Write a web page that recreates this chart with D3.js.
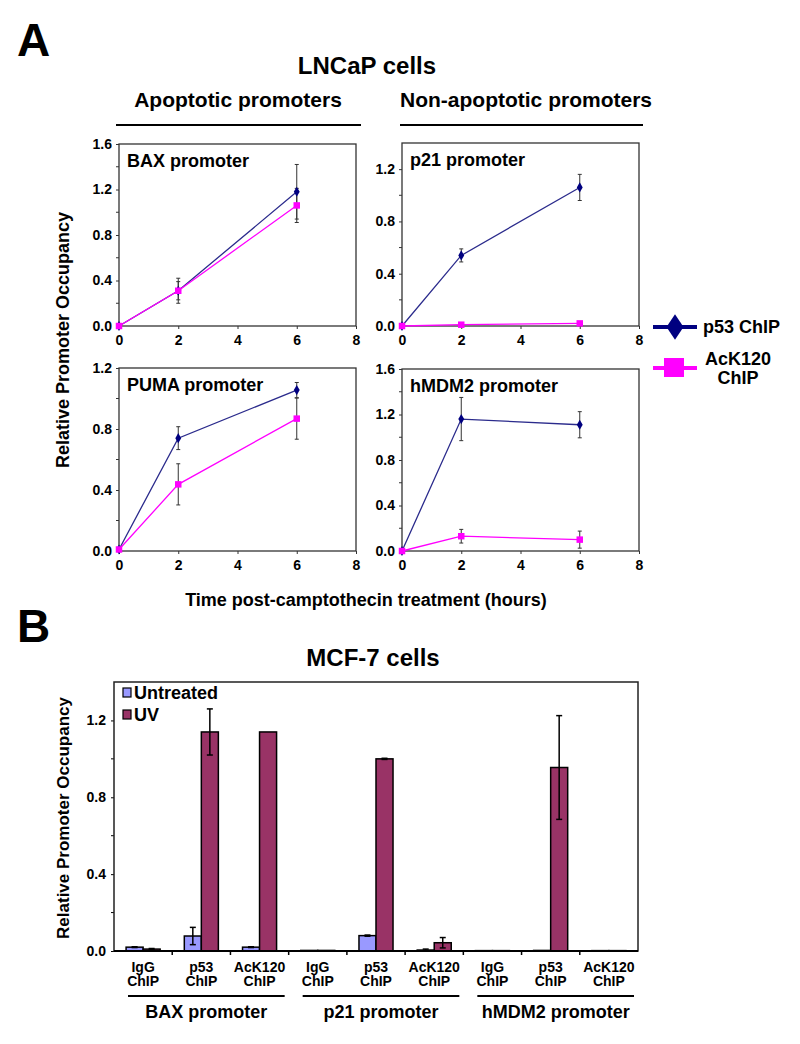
<!DOCTYPE html>
<html>
<head>
<meta charset="utf-8">
<script src="https://cdn.jsdelivr.net/npm/d3@7"></script>
<style>
  body { margin: 0; background: #fff; }
  svg { display: block; font-family: "Liberation Sans", Arial, sans-serif; font-weight: bold; }
</style>
</head>
<body>
<svg id="chart" width="800" height="1044"></svg>
<script>
// ---------- Panel A data ----------
const timePoints = [0, 2, 6];
const xTicksA = [0, 2, 4, 6, 8];
const panelNames = ["BAX promoter", "p21 promoter", "PUMA promoter", "hMDM2 promoter"];
const yMaxA = [1.6, 1.4, 1.2, 1.6];
const yTickLabelsA = [[0, 0.4, 0.8, 1.2, 1.6], [0, 0.4, 0.8, 1.2], [0, 0.4, 0.8, 1.2], [0, 0.4, 0.8, 1.2, 1.6]];
const p53Values = [[0, 0.31, 1.18], [0, 0.54, 1.06], [0.01, 0.74, 1.055], [0, 1.16, 1.11]];
const p53Errors = [[0, 0.11, 0.24], [0, 0.05, 0.10], [0, 0.075, 0.05], [0, 0.19, 0.115]];
const ack120Values = [[0, 0.31, 1.06], [0, 0.01, 0.02], [0.01, 0.437, 0.868], [0, 0.13, 0.10]];
const ack120Errors = [[0, 0.08, 0.15], [0, 0.004, 0.004], [0, 0.135, 0.135], [0, 0.06, 0.075]];
const seriesNamesA = ["p53 ChIP", "AcK120 ChIP"];

// ---------- Panel B data ----------
const chipTypes = ["IgG ChIP", "p53 ChIP", "AcK120 ChIP"];
const promoterGroups = ["BAX promoter", "p21 promoter", "hMDM2 promoter"];
const treatments = ["Untreated", "UV"];
const untreatedValues = [0.02, 0.078, 0.02, 0.003, 0.08, 0.005, 0.002, 0.003, 0.002];
const untreatedErrors = [0.002, 0.045, 0.002, 0, 0.003, 0.005, 0, 0, 0];
const uvValues = [0.01, 1.14, 1.14, 0.003, 1.0, 0.043, 0.002, 0.955, 0.002];
const uvErrors = [0.003, 0.12, 0, 0, 0.003, 0.027, 0, 0.27, 0];
const yTickLabelsB = [0, 0.4, 0.8, 1.2];

const svg = d3.select("#chart");
svg.append("rect").attr("width", 800).attr("height", 1044).attr("fill", "#fff");

const P53_LINE = "#2b2b8c", P53_MARK = "#000080", ACK = "#ff00ff";

// ---------- Panel A ----------
svg.append("text").attr("x", 17).attr("y", 56).attr("font-size", 46).text("A");
svg.append("text").attr("x", 367).attr("y", 74).attr("text-anchor", "middle").attr("font-size", 24).text("LNCaP cells");
svg.append("text").attr("x", 238).attr("y", 107).attr("text-anchor", "middle").attr("font-size", 21).text("Apoptotic promoters");
svg.append("text").attr("x", 526).attr("y", 107).attr("text-anchor", "middle").attr("font-size", 21).text("Non-apoptotic promoters");
svg.append("line").attr("x1", 116).attr("x2", 361).attr("y1", 125).attr("y2", 125).attr("stroke", "#000").attr("stroke-width", 2);
svg.append("line").attr("x1", 400).attr("x2", 643).attr("y1", 125).attr("y2", 125).attr("stroke", "#000").attr("stroke-width", 2);

const boxes = [
  {x0: 119, x1: 356, y0: 144, y1: 326},
  {x0: 402, x1: 639, y0: 143, y1: 326},
  {x0: 119, x1: 356, y0: 368, y1: 551},
  {x0: 402, x1: 639, y0: 369, y1: 551}
];

panelNames.forEach((name, i) => {
  const b = boxes[i];
  const x = d3.scaleLinear().domain([0, 8]).range([b.x0, b.x1]);
  const y = d3.scaleLinear().domain([0, yMaxA[i]]).range([b.y1, b.y0]);
  const g = svg.append("g");
  g.append("rect").attr("x", b.x0).attr("y", b.y0).attr("width", b.x1 - b.x0).attr("height", b.y1 - b.y0)
    .attr("fill", "none").attr("stroke", "#333").attr("stroke-width", 1.3);
  // y axis
  const yAx = g.append("g").attr("transform", `translate(${b.x0},0)`)
    .call(d3.axisLeft(y).tickValues(yTickLabelsA[i]).tickFormat(d3.format(".1f")).tickSize(3).tickPadding(4));
  yAx.select(".domain").remove();
  yAx.selectAll("text").attr("font-size", 14).attr("font-family", "Liberation Sans, Arial, sans-serif").attr("font-weight", "bold").attr("fill", "#000");
  yAx.selectAll("line").attr("stroke", "#333");
  const minor = d3.range(0.2, yMaxA[i], 0.4);
  g.selectAll(".minor").data(minor).enter().append("line")
    .attr("x1", b.x0 - 3).attr("x2", b.x0).attr("y1", d => y(d)).attr("y2", d => y(d)).attr("stroke", "#333");
  // x axis
  const xAx = g.append("g").attr("transform", `translate(0,${b.y1})`)
    .call(d3.axisBottom(x).tickValues(xTicksA).tickFormat(d3.format("d")).tickSize(3).tickPadding(6));
  xAx.select(".domain").remove();
  xAx.selectAll("text").attr("font-size", 14).attr("font-family", "Liberation Sans, Arial, sans-serif").attr("font-weight", "bold").attr("fill", "#000");
  xAx.selectAll("line").attr("stroke", "#333");
  // title
  g.append("text").attr("x", b.x0 + 8).attr("y", b.y0 + 23).attr("font-size", 18).text(name);

  const series = [
    {vals: p53Values[i], errs: p53Errors[i], line: P53_LINE, mark: P53_MARK, shape: d3.symbolDiamond, size: 30},
    {vals: ack120Values[i], errs: ack120Errors[i], line: ACK, mark: ACK, shape: d3.symbolSquare, size: 42}
  ];
  // draw AcK120 first? Reference: p53 line under magenta at shared points
  [series[0], series[1]].forEach(s => {
    const pts = timePoints.map((t, k) => ({t, v: s.vals[k], e: s.errs[k]}));
    g.append("path").datum(pts)
      .attr("d", d3.line().x(d => x(d.t)).y(d => y(d.v)))
      .attr("fill", "none").attr("stroke", s.line).attr("stroke-width", 1.3);
  });
  [series[0], series[1]].forEach(s => {
    const pts = timePoints.map((t, k) => ({t, v: s.vals[k], e: s.errs[k]})).filter(d => d.e > 0);
    pts.forEach(d => {
      g.append("line").attr("x1", x(d.t)).attr("x2", x(d.t)).attr("y1", y(d.v - d.e)).attr("y2", y(d.v + d.e)).attr("stroke", "#333").attr("stroke-width", 1);
      [d.v - d.e, d.v + d.e].forEach(v => g.append("line").attr("x1", x(d.t) - 2).attr("x2", x(d.t) + 2).attr("y1", y(v)).attr("y2", y(v)).attr("stroke", "#333").attr("stroke-width", 1));
    });
  });
  [series[0], series[1]].forEach(s => {
    timePoints.forEach((t, k) => {
      g.append("path").attr("d", d3.symbol().type(s.shape).size(s.size)())
        .attr("transform", `translate(${x(t)},${y(s.vals[k])})`).attr("fill", s.mark);
    });
  });
});

svg.append("text").attr("transform", "translate(69,340) rotate(-90)").attr("text-anchor", "middle").attr("font-size", 18).text("Relative Promoter Occupancy");
svg.append("text").attr("x", 366).attr("y", 606).attr("text-anchor", "middle").attr("font-size", 18).text("Time post-camptothecin treatment (hours)");

// legend A
const legA = svg.append("g");
legA.append("line").attr("x1", 653).attr("x2", 697).attr("y1", 327).attr("y2", 327).attr("stroke", P53_MARK).attr("stroke-width", 4);
legA.append("path").attr("d", d3.symbol().type(d3.symbolDiamond).size(190)()).attr("transform", "translate(675,327) scale(1.15,1)").attr("fill", P53_MARK);
legA.append("text").attr("x", 703).attr("y", 333).attr("font-size", 18).text(seriesNamesA[0]);
legA.append("line").attr("x1", 653).attr("x2", 697).attr("y1", 368).attr("y2", 368).attr("stroke", ACK).attr("stroke-width", 4);
legA.append("rect").attr("x", 664).attr("y", 358).attr("width", 20).attr("height", 19).attr("fill", ACK);
legA.append("text").attr("x", 738).attr("y", 365).attr("text-anchor", "middle").attr("font-size", 18).text("AcK120");
legA.append("text").attr("x", 738).attr("y", 384).attr("text-anchor", "middle").attr("font-size", 18).text("ChIP");

// ---------- Panel B ----------
svg.append("text").attr("x", 17).attr("y", 642).attr("font-size", 46).text("B");
svg.append("text").attr("x", 373).attr("y", 666).attr("text-anchor", "middle").attr("font-size", 24).text("MCF-7 cells");

const bx0 = 114, bx1 = 638, by0 = 682, by1 = 951;
const categories = [];
promoterGroups.forEach(p => chipTypes.forEach(c => categories.push(p + "|" + c)));
const xB = d3.scaleBand().domain(categories).range([bx0, bx1]);
const xInner = d3.scaleBand().domain(treatments).range([0, xB.bandwidth()]).paddingInner(0).paddingOuter(0.71);
const yB = d3.scaleLinear().domain([0, 1.4]).range([by1, by0]);

const gB = svg.append("g");
const yAxB = gB.append("g").attr("transform", `translate(${bx0},0)`)
  .call(d3.axisLeft(yB).tickValues(yTickLabelsB).tickFormat(d3.format(".1f")).tickSize(3).tickPadding(5));
yAxB.select(".domain").remove();
yAxB.selectAll("text").attr("font-size", 14).attr("font-family", "Liberation Sans, Arial, sans-serif").attr("font-weight", "bold").attr("fill", "#000");
gB.selectAll(".minorB").data([0.2, 0.6, 1.0]).enter().append("line")
  .attr("x1", bx0 - 3).attr("x2", bx0).attr("y1", d => yB(d)).attr("y2", d => yB(d)).attr("stroke", "#000");
// category boundary ticks
gB.selectAll(".bt").data(categories.slice(1)).enter().append("line")
  .attr("x1", d => xB(d)).attr("x2", d => xB(d)).attr("y1", by1).attr("y2", by1 + 4).attr("stroke", "#000").attr("stroke-width", 1.5);

const barData = [];
categories.forEach((c, i) => {
  barData.push({c, t: "Untreated", v: untreatedValues[i], e: untreatedErrors[i], fill: "#9999ff"});
  barData.push({c, t: "UV", v: uvValues[i], e: uvErrors[i], fill: "#993366"});
});
gB.selectAll(".bar").data(barData).enter().append("rect")
  .attr("x", d => xB(d.c) + xInner(d.t)).attr("width", xInner.bandwidth())
  .attr("y", d => yB(d.v)).attr("height", d => by1 - yB(d.v))
  .attr("fill", d => d.fill).attr("stroke", "#000").attr("stroke-width", 1.5);
barData.filter(d => d.e > 0).forEach(d => {
  const cx = xB(d.c) + xInner(d.t) + xInner.bandwidth() / 2;
  gB.append("line").attr("x1", cx).attr("x2", cx).attr("y1", yB(d.v - d.e)).attr("y2", yB(d.v + d.e)).attr("stroke", "#000").attr("stroke-width", 1.5);
  [d.v - d.e, d.v + d.e].forEach(v => gB.append("line").attr("x1", cx - 3).attr("x2", cx + 3).attr("y1", yB(v)).attr("y2", yB(v)).attr("stroke", "#000").attr("stroke-width", 1.5));
});
gB.append("rect").attr("x", bx0).attr("y", by0).attr("width", bx1 - bx0).attr("height", by1 - by0)
  .attr("fill", "none").attr("stroke", "#222").attr("stroke-width", 1.5);
gB.append("line").attr("x1", bx0).attr("x2", bx1).attr("y1", by1).attr("y2", by1).attr("stroke", "#000").attr("stroke-width", 2);

// category labels
categories.forEach(c => {
  const parts = c.split("|")[1].split(" ");
  const cx = xB(c) + xB.bandwidth() / 2;
  gB.append("text").attr("x", cx).attr("y", 972).attr("text-anchor", "middle").attr("font-size", 14).text(parts[0]);
  gB.append("text").attr("x", cx).attr("y", 986).attr("text-anchor", "middle").attr("font-size", 14).text(parts[1]);
});
promoterGroups.forEach((p, gi) => {
  const first = xB(p + "|" + chipTypes[0]), last = xB(p + "|" + chipTypes[2]) + xB.bandwidth();
  gB.append("line").attr("x1", first + 14).attr("x2", last - 4).attr("y1", 996).attr("y2", 996).attr("stroke", "#000").attr("stroke-width", 2);
  gB.append("text").attr("x", (first + last) / 2 + 5).attr("y", 1018).attr("text-anchor", "middle").attr("font-size", 18).text(p);
});

svg.append("text").attr("transform", "translate(69,818) rotate(-90)").attr("text-anchor", "middle").attr("font-size", 17).text("Relative Promoter Occupancy");

// legend B
const legB = svg.append("g");
legB.append("rect").attr("x", 123).attr("y", 688).attr("width", 8).attr("height", 9).attr("fill", "#9999ff").attr("stroke", "#000").attr("stroke-width", 1.2);
legB.append("text").attr("x", 134).attr("y", 699).attr("font-size", 18).text(treatments[0]);
legB.append("rect").attr("x", 123).attr("y", 710).attr("width", 8).attr("height", 9).attr("fill", "#993366").attr("stroke", "#000").attr("stroke-width", 1.2);
legB.append("text").attr("x", 134).attr("y", 721).attr("font-size", 18).text(treatments[1]);
</script>
</body>
</html>
